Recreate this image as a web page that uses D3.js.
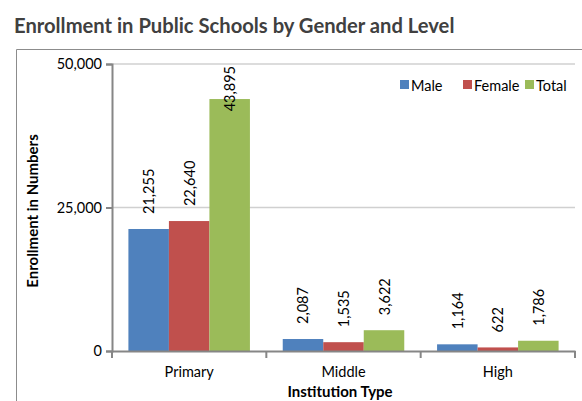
<!DOCTYPE html>
<html><head><meta charset="utf-8">
<script src="https://cdn.jsdelivr.net/npm/d3@7"></script>
<style>
body{margin:0;background:#fff;}
svg{display:block;font-family:Lato, "Open Sans", sans-serif;}
</style></head>
<body>
<svg id="c" width="582" height="401"></svg>
<script>
const categories = ["Primary", "Middle", "High"];
const seriesNames = ["Male", "Female", "Total"];
const male = [21255, 2087, 1164];
const female = [22640, 1535, 622];
const total = [43895, 3622, 1786];
const yTicks = [0, 25000, 50000];
const colors = ["#4f81bd", "#c0504d", "#9bbb59"];

const seriesValues = [male, female, total];
const svg = d3.select("#c");
const fmt = d3.format(",");
const FS = 14.5;

// chart border
svg.append("path").attr("d","M16.5,401 V49.5 H582").attr("fill","none").attr("stroke","#8c8c8c").attr("stroke-width",1);

svg.append("text").attr("x",14).attr("y",33).attr("fill","#404040")
  .attr("font-size",20.2).attr("font-weight","bold").text("Enrollment in Public Schools by Gender and Level");

const x = d3.scaleBand().domain(categories).range([112,575]).padding(0);
const xs = d3.scaleBand().domain(seriesNames).range([0,x.bandwidth()]).paddingInner(0).paddingOuter(0.405);
const y = d3.scaleLinear().domain([0,50000]).range([351,64]);

// gridlines
svg.append("g").selectAll("line").data(yTicks.filter(d=>d>0)).join("line")
  .attr("x1",112).attr("x2",575).attr("y1",d=>y(d)).attr("y2",d=>y(d))
  .attr("stroke","#d0d0d0").attr("stroke-width",1.5);

// bars
const groups = svg.append("g").selectAll("g").data(categories).join("g")
  .attr("transform",c=>`translate(${x(c)},0)`);
groups.selectAll("rect").data((c,i)=>seriesNames.map((s,j)=>({s,j,v:seriesValues[j][i]}))).join("rect")
  .attr("x",d=>xs(d.s)).attr("width",xs.bandwidth())
  .attr("y",d=>y(d.v)).attr("height",d=>y(0)-y(d.v)).attr("fill",d=>colors[d.j]);

// data labels
groups.selectAll("text.lbl").data((c,i)=>seriesNames.map((s,j)=>({s,j,v:seriesValues[j][i]}))).join("text")
  .attr("class","lbl").attr("font-size",FS).attr("fill","#000")
  .attr("text-anchor","start").attr("dominant-baseline","central")
  .text(d=>fmt(d.v))
  .each(function(d){
    const len = this.getComputedTextLength();
    let by = y(d.v) - 15;
    if (by - len < 64) by = 64 + len + 2;
    const cx = xs(d.s) + xs.bandwidth()/2;
    d3.select(this).attr("transform",`translate(${cx},${by}) rotate(-90)`);
  });

// y axis
const yAxis = svg.append("g").attr("transform","translate(112,0)")
  .call(d3.axisLeft(y).tickValues(yTicks).tickFormat(fmt).tickSize(6).tickPadding(4));
yAxis.select(".domain").attr("stroke","#868686").attr("stroke-width",2);
yAxis.selectAll(".tick line").attr("stroke","#868686").attr("stroke-width",2);
yAxis.selectAll("text").attr("font-size",FS).attr("fill","#000").attr("font-family","Lato, sans-serif");

// x axis
const xAxis = svg.append("g").attr("transform","translate(0,351)")
  .call(d3.axisBottom(x).tickSize(0).tickPadding(16));
xAxis.select(".domain").attr("stroke","#868686").attr("stroke-width",2);
xAxis.selectAll("text").attr("font-size",FS).attr("fill","#000").attr("font-family","Lato, sans-serif");
svg.append("g").selectAll("line").data([...categories.map(c=>x(c)), x.range()[1]]).join("line")
  .attr("x1",d=>d).attr("x2",d=>d).attr("y1",351).attr("y2",358)
  .attr("stroke","#868686").attr("stroke-width",2);

// axis titles
svg.append("text").attr("x",340).attr("y",397).attr("text-anchor","middle")
  .attr("font-size",15).attr("font-weight","bold").attr("fill","#000").text("Institution Type");
svg.append("text").attr("transform","translate(38,211) rotate(-90)").attr("text-anchor","middle")
  .attr("font-size",15).attr("font-weight","bold").attr("fill","#000").text("Enrollment in Numbers");

// legend
const legendX = [400, 463, 525];
const lg = svg.append("g").selectAll("g").data(seriesNames).join("g")
  .attr("transform",(d,i)=>`translate(${legendX[i]},85)`);
lg.append("rect").attr("x",0).attr("y",-5).attr("width",9).attr("height",9).attr("fill",(d,i)=>colors[i]);
lg.append("text").attr("x",11).attr("y",0).attr("dominant-baseline","central")
  .attr("font-size",FS).attr("fill","#000").text(d=>d);
</script>
</body></html>
